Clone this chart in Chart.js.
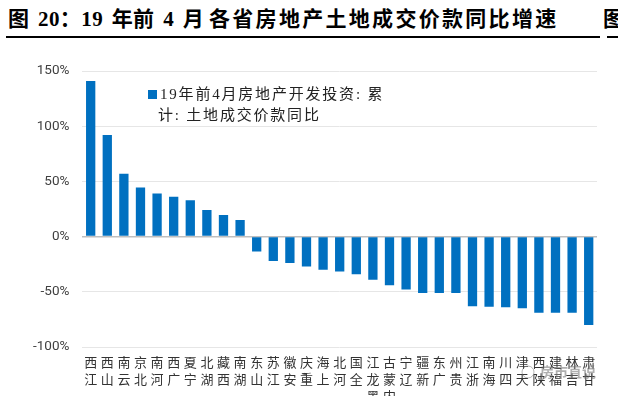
<!DOCTYPE html>
<html lang="zh">
<head>
<meta charset="utf-8">
<script src="https://cdn.jsdelivr.net/npm/chart.js@4"></script>
<style>
  html, body { margin: 0; padding: 0; background: #fff; }
  #wrap { position: relative; width: 618px; height: 396px; overflow: hidden; }
  .title {
    position: absolute; top: 2px;
    font: bold 21px "Liberation Serif", "Noto Sans CJK SC", serif;
    color: #000; white-space: nowrap;
  }
  .rule { position: absolute; top: 36px; height: 2px; background: #000; }
  canvas { position: absolute; left: 0; top: 0; }
</style>
</head>
<body>
<div id="wrap">
  <div class="title" style="left:8px;letter-spacing:0.4px;word-spacing:3px">图 20：19 年前 4 月</div>
  <div class="title" style="left:209px;letter-spacing:2.3px">各省房地产土地成交价款同比增速</div>
  <div class="title" style="left:603px">图</div>
  <div class="rule" style="left:6px;width:594px"></div>
  <div class="rule" style="left:607px;width:11px"></div>
  <canvas id="chart" width="618" height="396"></canvas>
</div>
<script>
/* ── Data ────────────────────────────────────────────────────────────── */
const provinces = [
  "江西", "山西", "云南", "北京", "河南", "广西", "宁夏", "湖北", "西藏", "湖南",
  "山东", "江苏", "安徽", "重庆", "上海", "河北", "全国", "黑龙江", "内蒙古", "辽宁",
  "新疆", "广东", "贵州", "浙江", "海南", "四川", "天津", "陕西", "福建", "吉林", "甘肃"
];

const landPriceYoY = [
  141, 92, 57, 44.5, 39, 36, 33, 24, 19.5, 15,
  -13.5, -22, -24, -27, -30, -31.5, -34, -39, -44, -48,
  -51, -51, -51, -63, -63.5, -64, -65, -69, -69, -69, -80
];

const yTicks = [-100, -50, 0, 50, 100, 150];

const legendLines = ["19年前4月房地产开发投资: 累", "计: 土地成交价款同比"];

/* ── Plugin: two-line legend inside the plot + watermark ─────────────── */
const overlayPlugin = {
  id: "overlay",
  afterDraw(chart) {
    const ctx = chart.ctx;
    ctx.save();
    ctx.fillStyle = "#0070c0";
    ctx.fillRect(148, 90, 9, 9);
    ctx.fillStyle = "#222";
    ctx.font = '15px "Liberation Serif", "Noto Sans CJK SC", serif';
    ctx.letterSpacing = "1.8px";
    ctx.textBaseline = "middle";
    ctx.fillText(legendLines[0], 160, 95);
    ctx.fillText(legendLines[1], 158, 116);

    // faint watermark, bottom right
    ctx.letterSpacing = "0px";
    ctx.fillStyle = "rgba(110,110,110,0.55)";
    ctx.font = 'bold 14px "Noto Sans CJK SC", sans-serif';
    ctx.fillText("房市直说", 540, 372);
    ctx.strokeStyle = "rgba(110,110,110,0.5)";
    ctx.beginPath();
    ctx.arc(528, 372, 6, 0, Math.PI * 2);
    ctx.stroke();
    ctx.restore();
  },
};

/* ── Chart ───────────────────────────────────────────────────────────── */
new Chart(document.getElementById("chart"), {
  type: "bar",
  data: {
    labels: provinces,
    datasets: [{
      label: legendLines.join(""),
      data: landPriceYoY,
      backgroundColor: "#0070c0",
      barPercentage: 0.56,
      categoryPercentage: 1,
    }],
  },
  options: {
    responsive: false,
    animation: false,
    layout: { padding: { top: 71, left: 20, right: 21, bottom: 0 } },
    plugins: {
      legend: { display: false },
      tooltip: { enabled: false },
    },
    scales: {
      x: {
        grid: { display: false, drawTicks: false },
        border: { display: false },
        afterFit: (scale) => { scale.height = 49; },
        ticks: {
          autoSkip: false,
          maxRotation: 0,
          minRotation: 0,
          padding: 7,
          color: "#333",
          font: { family: '"Noto Sans CJK SC", sans-serif', size: 13, lineHeight: 1.3 },
          callback: function (value) {
            return this.getLabelForValue(value).split("").reverse();
          },
        },
      },
      y: {
        min: yTicks[0],
        max: yTicks[yTicks.length - 1],
        afterBuildTicks: (scale) => { scale.ticks = yTicks.map((v) => ({ value: v })); },
        grid: {
          drawTicks: false,
          color: (c) => (c.tick && c.tick.value === 0 ? "#bfbfbf" : "#e6e6e6"),
          lineWidth: (c) => (c.tick && c.tick.value === 0 ? 1.5 : 1),
        },
        border: { display: false },
        ticks: {
          padding: 13,
          color: "#404040",
          font: { family: 'Roboto, "DejaVu Sans", sans-serif', size: 13.5 },
          callback: (v) => v + "%",
        },
      },
    },
  },
  plugins: [overlayPlugin],
});
</script>
</body>
</html>
